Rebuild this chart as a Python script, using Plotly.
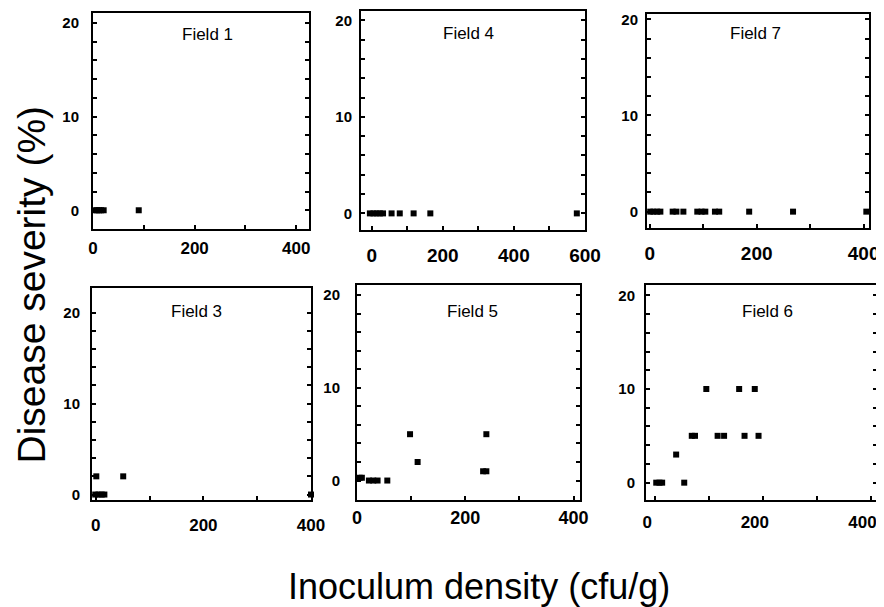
import plotly.graph_objects as go

# ---------------- data ----------------
field1_x = [4, 8, 12, 16, 21, 90]
field1_y = [0, 0, 0, 0, 0, 0]

field4_x = [-5, 5, 14, 23, 32, 56, 79, 118, 165, 577]
field4_y = [0, 0, 0, 0, 0, 0, 0, 0, 0, 0]

field7_x = [1, 7, 14, 20, 43, 50, 63, 89, 97, 104, 122, 130, 186, 268, 405]
field7_y = [0, 0, 0, 0, 0, 0, 0, 0, 0, 0, 0, 0, 0, 0, 0]

field3_x = [-1, 5, 11, 16, 400, 1, 51]
field3_y = [0, 0, 0, 0, 0, 2, 2]

field5_x = [5, 9, 22, 30, 38, 56, 98, 112, 233, 239, 239]
field5_y = [0.3, 0.3, 0, 0, 0, 0, 5, 2, 1, 1, 5]

field6_x = [2, 8, 13, 39, 54, 68, 74, 95, 116, 128, 156, 166, 185, 192]
field6_y = [0, 0, 0, 3, 0, 5, 5, 10, 5, 5, 10, 5, 10, 5]

field_names = ["Field 1", "Field 4", "Field 7", "Field 3", "Field 5", "Field 6"]

y_tick_values = [0, 2, 4, 6, 8, 10, 12, 14, 16, 18, 20]
y_tick_labels = ["0", "", "", "", "", "10", "", "", "", "", "20"]
x_tick_values_400 = [0, 100, 200, 300, 400]
x_tick_labels_400 = ["0", "", "200", "", "400"]
x_tick_values_600 = [0, 100, 200, 300, 400, 500, 600]
x_tick_labels_600 = ["0", "", "200", "", "400", "", "600"]

x_title = "Inoculum density (cfu/g)"
y_title = "Disease severity (%)"

# ---------------- layout geometry (window pixels) ----------------
# the page body has an 8px margin, so the figure div starts at (8, 8)
OFF = 8
W, H = 884 - OFF, 607 - OFF


def fx(px):
    return (px - OFF) / W


def fy(py):
    return 1 - (py - OFF) / H


boxes = [(93, 309, 13, 229), (361, 585, 11, 230), (647, 869, 14, 228),
         (92, 311, 288, 500), (357, 580, 285, 500), (646, 877, 285, 500)]
x_ranges = [(0, 425), (-30, 600), (-5, 410), (-7, 400), (0, 412), (-17, 412)]
y_ranges = [(-2.0, 21.07), (-1.72, 20.96), (-1.7, 20.55),
            (-0.6, 22.7), (-2.1, 21.1), (-1.85, 21.1)]
y_standoff = [9, 4, 4, 7, 12, 6]
x_standoff = [3, 7, 7, 9, 0, 6]
x_label_shift = [0, 0, 0, 0, 0, -8]
x_tick_size = [17, 19, 19, 17, 18, 17]
title_pos = [(207, 34), (469, 33), (755, 33), (196, 311), (472, 311), (767, 311)]

series = [(field1_x, field1_y), (field4_x, field4_y), (field7_x, field7_y),
          (field3_x, field3_y), (field5_x, field5_y), (field6_x, field6_y)]

FONT = "Liberation Sans, Arial, Helvetica, sans-serif"

fig = go.Figure()
layout = dict(
    width=W, height=H,
    margin=dict(l=0, r=0, t=0, b=0, autoexpand=False),
    paper_bgcolor="white", plot_bgcolor="white",
    showlegend=False,
    font=dict(family=FONT, color="black"),
)
annotations = []

for i, ((xs, ys), name) in enumerate(zip(series, field_names)):
    n = i + 1
    xa = "x" if n == 1 else f"x{n}"
    ya = "y" if n == 1 else f"y{n}"
    fig.add_trace(go.Scatter(
        x=xs, y=ys, mode="markers", xaxis=xa, yaxis=ya,
        marker=dict(symbol="square", size=6, color="black"),
        cliponaxis=False, hoverinfo="skip"))
    l, r, t, b = boxes[i]
    if n == 2:
        xtv, xtt = x_tick_values_600, x_tick_labels_600
    else:
        xtv, xtt = x_tick_values_400, x_tick_labels_400
    layout["xaxis" if n == 1 else f"xaxis{n}"] = dict(
        domain=[fx(l), fx(r)], anchor=ya, range=list(x_ranges[i]),
        showgrid=False, zeroline=False, automargin=False,
        showline=True, linewidth=2, linecolor="black", mirror=True,
        ticks="inside", ticklen=4, tickwidth=1.5, tickcolor="black",
        tickvals=xtv, ticktext=xtt, ticklabeloverflow="allow",
        ticklabelshift=x_label_shift[i],
        tickfont=dict(family=FONT, size=x_tick_size[i], color="black",
                      weight="bold"),
        ticklabelstandoff=x_standoff[i],
    )
    layout["yaxis" if n == 1 else f"yaxis{n}"] = dict(
        domain=[fy(b), fy(t)], anchor=xa, range=list(y_ranges[i]),
        showgrid=False, zeroline=False, automargin=False,
        showline=True, linewidth=2, linecolor="black", mirror="ticks",
        ticks="inside", ticklen=4, tickwidth=1.5, tickcolor="black",
        tickvals=y_tick_values, ticktext=y_tick_labels,
        ticklabeloverflow="allow",
        tickfont=dict(family=FONT, size=15, color="black", weight="bold"),
        ticklabelstandoff=y_standoff[i],
    )
    tx, ty = title_pos[i]
    annotations.append(dict(
        text=name, xref="paper", yref="paper", x=fx(tx), y=fy(ty),
        xanchor="center", yanchor="middle", showarrow=False,
        font=dict(family=FONT, size=17, color="black")))

annotations.append(dict(
    text=x_title, xref="paper", yref="paper", x=fx(479), y=fy(586),
    xanchor="center", yanchor="middle", showarrow=False,
    font=dict(family=FONT, size=36, color="black")))
annotations.append(dict(
    text=y_title, xref="paper", yref="paper", x=0, y=fy(285),
    xanchor="left", yanchor="middle", showarrow=False, textangle=-90,
    font=dict(family=FONT, size=39, color="black")))

layout["annotations"] = annotations
fig.update_layout(**layout)
fig.write_html("out.html")
